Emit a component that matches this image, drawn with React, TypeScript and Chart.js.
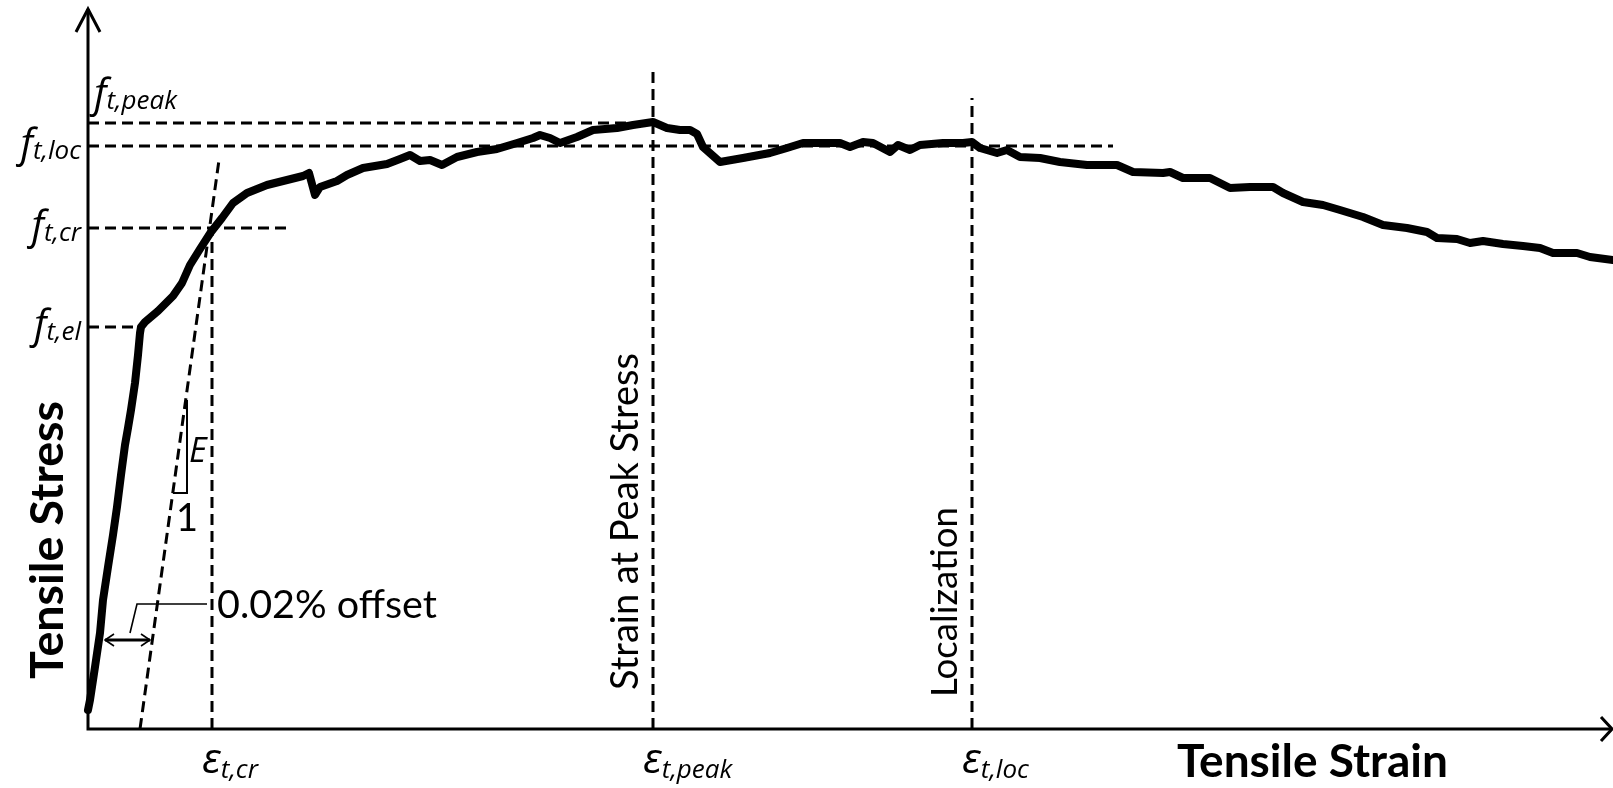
import React, { useEffect, useRef } from "react";
import { Chart, registerables } from "chart.js";

Chart.register(...registerables);

// ---- Curve data (schematic units) ----
const strain = [
  0, 0.2, 0.7, 1.2, 1.5, 2.0, 2.5, 2.9, 3.3, 3.7,
  4.0, 4.3, 4.7, 5.0, 5.2, 5.3, 5.7, 7.0, 8.5, 9.4,
  10.2, 11.2, 12.3, 13.4, 14.5, 15.9, 17.9, 19.9, 21.5, 22.1,
  22.7, 23.2, 24.9, 25.9, 27.5, 29.9, 31.2, 32.2, 33.2, 34.2,
  35.4, 36.9, 38.9, 40.9, 42.9, 44.5, 45.2, 46.2, 47.2, 48.9,
  50.5, 52.9, 54.5, 56.5, 57.9, 59.2, 60.2, 60.9, 61.5, 63.2,
  65.5, 68.2, 69.9, 71.5, 75.2, 76.2, 77.5, 78.5, 80.2, 81.0,
  82.2, 83.2, 85.5, 87.5, 88.4, 89.2, 90.9, 91.9, 93.2, 95.2,
  97.2, 99.9, 102.9, 104.5, 107.5, 108.2, 109.5, 112.2, 114.2, 116.2,
  118.5, 119.5, 121.5, 123.5, 125.2, 127.5, 129.5, 131.9, 133.9, 134.9,
  136.9, 138.2, 139.5, 141.5, 143.5, 145.2, 146.5, 148.9, 150.2, 152.5,
];
const stress = [
  1.9, 2.9, 6.2, 9.6, 12.9, 16.2, 19.4, 22.2, 25.4, 28.4,
  30.1, 31.9, 34.6, 37.4, 39.6, 40.2, 40.7, 41.8, 43.3, 44.6,
  46.4, 48.0, 49.7, 51.1, 52.6, 53.6, 54.4, 54.9, 55.3, 55.6,
  53.4, 54.2, 54.8, 55.4, 56.1, 56.5, 57.0, 57.4, 56.8, 56.9,
  56.4, 57.2, 57.7, 58.0, 58.6, 59.1, 59.4, 59.1, 58.6, 59.2,
  59.9, 60.1, 60.4, 60.7, 60.1, 59.9, 59.9, 59.5, 58.2, 56.7,
  57.1, 57.6, 58.1, 58.6, 58.6, 58.2, 58.7, 58.6, 57.7, 58.4,
  57.9, 58.4, 58.6, 58.6, 58.7, 58.1, 57.6, 57.9, 57.2, 57.1,
  56.7, 56.4, 56.4, 55.7, 55.6, 55.7, 55.1, 55.1, 54.1, 54.2,
  54.2, 53.6, 52.7, 52.4, 51.9, 51.2, 50.4, 50.1, 49.7, 49.1,
  49.0, 48.6, 48.8, 48.5, 48.3, 48.1, 47.6, 47.6, 47.2, 46.9,
];

// Axis extents
const strainMax = 152.5;
const stressMax = 72.1;

// Characteristic stresses (horizontal dashed lines)
const stressNames = ["t,peak", "t,loc", "t,cr", "t,el"];
const stressLevels = [60.6, 58.3, 50.1, 40.2];
const stressLineEnds = [56.5, 102.5, 19.9, 5.3];

// Characteristic strains (vertical dashed lines)
const strainNames = ["t,cr", "t,peak", "t,loc"];
const strainLevels = [12.4, 56.5, 88.4];
const strainLineTops = [50.1, 65.9, 63.1];

// Vertical annotations on the strain lines (index into strainLevels)
const vTexts = ["Strain at Peak Stress", "Localization"];
const vTextLines = [1, 2];

// 0.02% offset line (elastic slope E)
const offsetStrain = [5.2, 13.1];
const offsetStress = [0, 56.9];
// slope triangle
const triStrain = [8.5, 9.9, 9.9];
const triStress = [23.6, 23.6, 32.9];
// offset dimension arrow and leader
const dimStrain = [1.7, 6.2];
const dimStress = [8.9, 8.9];
const leaderStrain = [4.2, 4.9, 11.9];
const leaderStress = [9.6, 12.5, 12.5];

const xTitle = "Tensile Strain";
const yTitle = "Tensile Stress";
const offsetText = "0.02% offset";

const TEXT = '"Lato", "Open Sans", sans-serif';
const MATH = '"Open Sans", sans-serif';

const pts = (xs: number[], ys: number[]) => xs.map((x, i) => ({ x, y: ys[i] }));

function fitSize(ctx: CanvasRenderingContext2D, text: string, style: string, family: string, width: number) {
  ctx.font = `${style} 100px ${family}`;
  return (100 * width) / ctx.measureText(text).width;
}

function subLabel(
  ctx: CanvasRenderingContext2D,
  main: string,
  sub: string,
  x: number,
  baseline: number,
  mainSize: number,
  subSize: number,
  align: "left" | "right",
  subDy: number
) {
  ctx.font = `italic ${mainSize}px ${MATH}`;
  const mw = ctx.measureText(main).width;
  ctx.font = `italic ${subSize}px ${MATH}`;
  const sw = ctx.measureText(sub).width;
  const left = align === "left" ? x : x - mw - sw;
  ctx.textAlign = "left";
  ctx.textBaseline = "alphabetic";
  ctx.font = `italic ${mainSize}px ${MATH}`;
  ctx.fillText(main, left, baseline);
  ctx.font = `italic ${subSize}px ${MATH}`;
  ctx.fillText(sub, left + mw, baseline + subDy);
}

const annotPlugin = {
  id: "annot",
  beforeDatasetsDraw(chart: any) {
    const { ctx, chartArea: a, scales } = chart;
    const x0 = scales.x.getPixelForValue(0);
    const y0 = scales.y.getPixelForValue(0);
    ctx.save();
    ctx.strokeStyle = "#000";
    ctx.lineWidth = 3;
    ctx.beginPath();
    ctx.moveTo(x0, y0 + 1.5);
    ctx.lineTo(x0, a.top + 1);
    ctx.moveTo(x0 - 1.5, y0);
    ctx.lineTo(a.right - 1, y0);
    ctx.stroke();
    ctx.lineJoin = "miter";
    ctx.beginPath();
    ctx.moveTo(x0 - 12, a.top + 24);
    ctx.lineTo(x0, a.top + 1);
    ctx.lineTo(x0 + 12, a.top + 24);
    ctx.stroke();
    ctx.beginPath();
    ctx.moveTo(a.right - 12, y0 - 12);
    ctx.lineTo(a.right - 1, y0);
    ctx.lineTo(a.right - 12, y0 + 12);
    ctx.stroke();
    ctx.restore();
  },
  afterDatasetsDraw(chart: any) {
    const { ctx, scales } = chart;
    const X = (v: number) => scales.x.getPixelForValue(v);
    const Y = (v: number) => scales.y.getPixelForValue(v);
    const x0 = X(0);
    const y0 = Y(0);
    ctx.save();
    ctx.fillStyle = "#000";
    ctx.strokeStyle = "#000";

    // dimension arrow heads
    ctx.lineWidth = 1.6;
    const ay = Y(dimStress[0]);
    const ax1 = X(dimStrain[0]);
    const ax2 = X(dimStrain[1]);
    ctx.beginPath();
    ctx.moveTo(ax1 + 9, ay - 6);
    ctx.lineTo(ax1, ay);
    ctx.lineTo(ax1 + 9, ay + 6);
    ctx.moveTo(ax2 - 9, ay - 6);
    ctx.lineTo(ax2, ay);
    ctx.lineTo(ax2 - 9, ay + 6);
    ctx.stroke();

    // stress labels
    stressNames.forEach((n, i) => {
      const py = Y(stressLevels[i]);
      if (i === 0) subLabel(ctx, "f", n, x0 + 6, py - 16, 40, 26, "left", 2);
      else subLabel(ctx, "f", n, x0 - 7, py + 11, 40, 26, "right", 2);
    });

    // strain labels
    strainNames.forEach((n, i) => {
      subLabel(ctx, "\u03b5", n, X(strainLevels[i]) - 10, y0 + 44, 42, 26, "left", 5);
    });

    // vertical annotations
    vTexts.forEach((t, i) => {
      const px = X(strainLevels[vTextLines[i]]);
      const len = i === 0 ? 337 : 190;
      const size = fitSize(ctx, t, "normal", TEXT, len);
      ctx.save();
      ctx.translate(px - 15, i === 0 ? 690 : 697);
      ctx.rotate(-Math.PI / 2);
      ctx.font = `normal ${size}px ${TEXT}`;
      ctx.textAlign = "left";
      ctx.textBaseline = "alphabetic";
      ctx.fillText(t, 0, 0);
      ctx.restore();
    });

    // slope labels
    ctx.textAlign = "left";
    ctx.textBaseline = "alphabetic";
    ctx.font = `italic 34px ${MATH}`;
    ctx.fillText("E", X(triStrain[2]) + 2, Y(triStress[2]) + 62);
    ctx.font = `normal 38px ${TEXT}`;
    ctx.fillText("1", X(triStrain[0]) + 3, Y(triStress[0]) + 38);

    // offset text
    const os = fitSize(ctx, offsetText, "normal", TEXT, 220);
    ctx.font = `normal ${os}px ${TEXT}`;
    ctx.fillText(offsetText, X(leaderStrain[2]) + 10, Y(leaderStress[2]) + 14);

    // axis titles
    const ts = fitSize(ctx, xTitle, "bold", TEXT, 271);
    ctx.font = `bold ${ts}px ${TEXT}`;
    ctx.fillText(xTitle, 1177, y0 + 48);

    const ys = fitSize(ctx, yTitle, "bold", TEXT, 278);
    ctx.save();
    ctx.translate(63, 540);
    ctx.rotate(-Math.PI / 2);
    ctx.font = `bold ${ys}px ${TEXT}`;
    ctx.textAlign = "center";
    ctx.fillText(yTitle, 0, 0);
    ctx.restore();

    ctx.restore();
  },
};

export default function App() {
  const ref = useRef<HTMLCanvasElement>(null);
  useEffect(() => {
    const dashed = { borderColor: "#000", borderWidth: 3, borderDash: [11, 6], pointRadius: 0, tension: 0, clip: false as any };
    const datasets: any[] = [];
    stressLevels.forEach((lv, i) => {
      datasets.push({ ...dashed, data: pts([0, stressLineEnds[i]], [lv, lv]) });
    });
    strainLevels.forEach((lv, i) => {
      datasets.push({ ...dashed, data: pts([lv, lv], [0, strainLineTops[i]]) });
    });
    datasets.push({ ...dashed, data: pts(offsetStrain, offsetStress) });
    datasets.push({ borderColor: "#000", borderWidth: 2, pointRadius: 0, data: pts(triStrain, triStress) });
    datasets.push({ borderColor: "#000", borderWidth: 1.6, pointRadius: 0, data: pts(leaderStrain, leaderStress) });
    datasets.push({ borderColor: "#000", borderWidth: 3, pointRadius: 0, data: pts(dimStrain, dimStress) });
    datasets.push({
      borderColor: "#000",
      borderWidth: 8,
      pointRadius: 0,
      tension: 0,
      borderJoinStyle: "round",
      borderCapStyle: "round",
      clip: false,
      data: pts(strain, stress),
    });

    const chart = new Chart(ref.current!, {
      type: "line",
      data: { datasets },
      options: {
        animation: false,
        responsive: false,
        layout: { padding: { left: 88, right: 0, top: 8, bottom: 59 } },
        plugins: { legend: { display: false }, tooltip: { enabled: false } },
        scales: {
          x: { type: "linear", min: 0, max: strainMax, display: false },
          y: { type: "linear", min: 0, max: stressMax, display: false },
        },
      },
      plugins: [annotPlugin],
    } as any);
    return () => chart.destroy();
  }, []);
  return (
    <div style={{ position: "fixed", left: 0, top: 0, width: 1613, height: 788, background: "#fff" }}>
      <canvas ref={ref} width={1613} height={788} style={{ display: "block" }} />
    </div>
  );
}
